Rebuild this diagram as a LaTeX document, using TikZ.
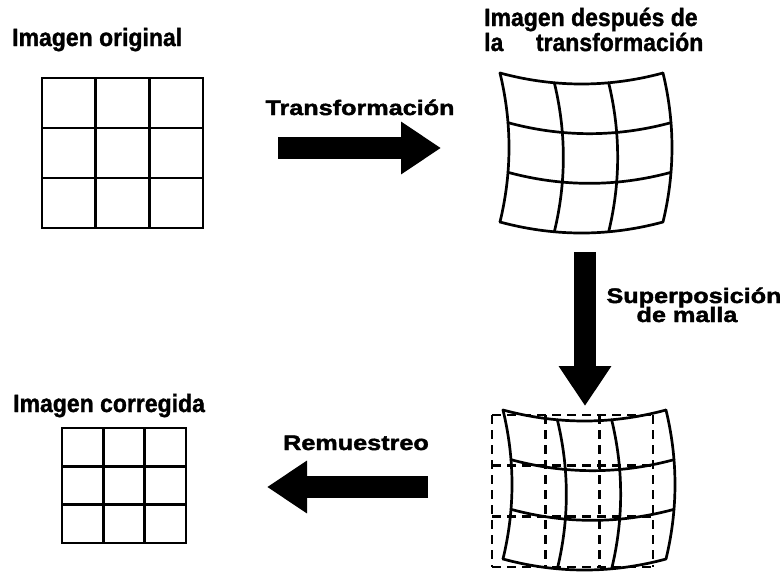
\documentclass[tikz,border=0pt]{standalone}
\usepackage{fontspec}
\setmainfont{Liberation Sans}
\newfontfamily\titlefont{Liberation Sans}[FakeStretch=0.92,FakeBold=1.2]
\newfontfamily\arrowfont{Liberation Sans}[FakeStretch=1.2,FakeBold=2]
\usetikzlibrary{
	arrows.meta,
	positioning,
	calc
}

\begin{document}
\begin{tikzpicture}[x=1pt,y=-1pt,
		gridline/.style={line width=2.8pt,line cap=rect},
		warp/.style={line width=2.7pt,line join=round,line cap=round},
		dashgrid/.style={line width=2.8pt,dash pattern=on 9pt off 6pt},
		headtext/.style={anchor=base west,inner sep=0pt,font=\titlefont\bfseries\fontsize{25}{26}\selectfont},
		arrowtext/.style={anchor=base,inner sep=0pt,font=\arrowfont\bfseries\fontsize{21}{22}\selectfont},
		bigarrow/.style={line width=22pt,-{Triangle[length=40pt,width=50pt]}}]
		
		\useasboundingbox (0,0) rectangle (780,573);
		
		% titles
		\node[headtext] (t-orig) at (12,46) {Imagen original};
		\node[headtext] (t-warp1) at (484,26) {Imagen después de};
		\node[headtext] (t-warp2) at (484,51) {la\hspace{1.3em}transformación};
		\node[headtext] (t-corr) at (13,412) {Imagen corregida};
		
		% original image
		\begin{scope}[shift={(42,78)}]
			\foreach \i in {0,...,3} {
				\draw[gridline] (\i*53.67,0) -- (\i*53.67,150);
				\draw[gridline] (0,\i*50) -- (161,\i*50);
			}
		\end{scope}
		
		% image after the transformation
		\begin{scope}[shift={(500,73)}]
			\foreach \v in {0,...,3}
			\draw[warp] plot[domain=0:1,samples=25,smooth] ({163*\x+4*\v*(3-\v)},{49.67*\v+44*\x*(1-\x)});
			\foreach \u in {0,...,3}
			\draw[warp] plot[domain=0:1,samples=25,smooth] ({54.33*\u+36*\x*(1-\x)},{149*\x+4.89*\u*(3-\u)});
		\end{scope}
		
		% mesh laid over it
		\begin{scope}[shift={(492,415)}]
			\foreach \i in {0,...,3} {
				\draw[dashgrid] (\i*53.67,0) -- (\i*53.67,152);
				\draw[dashgrid] (0,\i*50.67) -- (161,\i*50.67);
			}
		\end{scope}
		\begin{scope}[shift={(503,410)}]
			\foreach \v in {0,...,3}
			\draw[warp] plot[domain=0:1,samples=25,smooth] ({163*\x+4*\v*(3-\v)},{49.67*\v+44*\x*(1-\x)});
			\foreach \u in {0,...,3}
			\draw[warp] plot[domain=0:1,samples=25,smooth] ({54.33*\u+36*\x*(1-\x)},{149*\x+4.89*\u*(3-\u)});
		\end{scope}
		
		% corrected image
		\begin{scope}[shift={(62,428)}]
			\foreach \i in {0,...,3} {
				\draw[gridline,line width=2.6pt] (\i*41.33,0) -- (\i*41.33,115);
				\draw[gridline,line width=2.6pt] (0,\i*38.33) -- (124,\i*38.33);
			}
		\end{scope}
		
		% arrows
		\coordinate (tr-from) at (278,148);
		\coordinate (tr-to) at (441,148);
		\coordinate (sp-from) at (585,252);
		\coordinate (sp-to) at (585,406);
		\coordinate (re-from) at (428,487);
		\coordinate (re-to) at (267,487);
		
		\draw[bigarrow] (tr-from) -- (tr-to);
		\draw[bigarrow] (sp-from) -- (sp-to);
		\draw[bigarrow] (re-from) -- (re-to);
		
		\node[arrowtext] (l-tr) at (360,115) {Transformación};
		\node[arrowtext] (l-sp1) at (694,303) {Superposición};
		\node[arrowtext] (l-sp2) at (687,322) {de malla};
		\node[arrowtext] (l-re) at (356,450) {Remuestreo};
		
	\end{tikzpicture}
\end{document}
